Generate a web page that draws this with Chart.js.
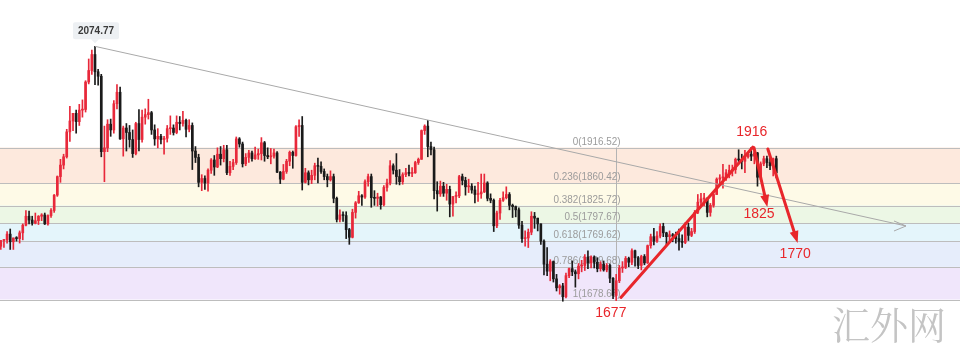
<!DOCTYPE html>
<html><head><meta charset="utf-8">
<script src="https://cdn.jsdelivr.net/npm/chart.js@4/dist/chart.umd.min.js"></script>
<style>html,body{margin:0;padding:0;background:#fff;}#wrap{width:960px;height:356px;position:relative;}</style>
</head><body><div id="wrap"><canvas id="c"></canvas></div>
<script>
// ---- data (XAU/USD daily) ----
const dates = [
'20-06-26','20-06-29','20-06-30','20-07-01','20-07-02','20-07-03','20-07-06','20-07-07','20-07-08','20-07-09',
'20-07-10','20-07-13','20-07-14','20-07-15','20-07-16','20-07-17','20-07-20','20-07-21','20-07-22','20-07-23',
'20-07-24','20-07-27','20-07-28','20-07-29','20-07-30','20-07-31','20-08-03','20-08-04','20-08-05','20-08-06',
'20-08-07','20-08-10','20-08-11','20-08-12','20-08-13','20-08-14','20-08-17','20-08-18','20-08-19','20-08-20',
'20-08-21','20-08-24','20-08-25','20-08-26','20-08-27','20-08-28','20-08-31','20-09-01','20-09-02','20-09-03',
'20-09-04','20-09-07','20-09-08','20-09-09','20-09-10','20-09-11','20-09-14','20-09-15','20-09-16','20-09-17',
'20-09-18','20-09-21','20-09-22','20-09-23','20-09-24','20-09-25','20-09-28','20-09-29','20-09-30','20-10-01',
'20-10-02','20-10-05','20-10-06','20-10-07','20-10-08','20-10-09','20-10-12','20-10-13','20-10-14','20-10-15',
'20-10-16','20-10-19','20-10-20','20-10-21','20-10-22','20-10-23','20-10-26','20-10-27','20-10-28','20-10-29',
'20-10-30','20-11-02','20-11-03','20-11-04','20-11-05','20-11-06','20-11-09','20-11-10','20-11-11','20-11-12',
'20-11-13','20-11-16','20-11-17','20-11-18','20-11-19','20-11-20','20-11-23','20-11-24','20-11-25','20-11-26',
'20-11-27','20-11-30','20-12-01','20-12-02','20-12-03','20-12-04','20-12-07','20-12-08','20-12-09','20-12-10',
'20-12-11','20-12-14','20-12-15','20-12-16','20-12-17','20-12-18','20-12-21','20-12-22','20-12-23','20-12-24',
'20-12-28','20-12-29','20-12-30','20-12-31','21-01-04','21-01-05','21-01-06','21-01-07','21-01-08','21-01-11',
'21-01-12','21-01-13','21-01-14','21-01-15','21-01-18','21-01-19','21-01-20','21-01-21','21-01-22','21-01-25',
'21-01-26','21-01-27','21-01-28','21-01-29','21-02-01','21-02-02','21-02-03','21-02-04','21-02-05','21-02-08',
'21-02-09','21-02-10','21-02-11','21-02-12','21-02-15','21-02-16','21-02-17','21-02-18','21-02-19','21-02-22',
'21-02-23','21-02-24','21-02-25','21-02-26','21-03-01','21-03-02','21-03-03','21-03-04','21-03-05','21-03-08',
'21-03-09','21-03-10','21-03-11','21-03-12','21-03-15','21-03-16','21-03-17','21-03-18','21-03-19','21-03-22',
'21-03-23','21-03-24','21-03-25','21-03-26','21-03-29','21-03-30','21-03-31','21-04-01','21-04-05','21-04-06',
'21-04-07','21-04-08','21-04-09','21-04-12','21-04-13','21-04-14','21-04-15','21-04-16','21-04-19','21-04-20',
'21-04-21','21-04-22','21-04-23','21-04-26','21-04-27','21-04-28','21-04-29','21-04-30','21-05-03','21-05-04',
'21-05-05','21-05-06','21-05-07','21-05-10','21-05-11','21-05-12','21-05-13','21-05-14','21-05-17','21-05-18',
'21-05-19','21-05-20','21-05-21','21-05-24','21-05-25','21-05-26','21-05-27','21-05-28','21-05-31','21-06-01',
'21-06-02','21-06-03','21-06-04','21-06-07','21-06-08','21-06-09','21-06-10','21-06-11'];

const open = [
1762,1771,1772,1781,1769,1775,1774,1783,1795,1809,
1803,1798,1802,1809,1811,1797,1810,1818,1842,1871,
1889,1902,1941,1958,1970,1957,1975,1976,2019,2037,
2062,2035,2028,1910,1916,1953,1944,1985,2003,1930,
1947,1940,1929,1907,1954,1929,1964,1968,1971,1944,
1930,1934,1929,1931,1946,1947,1940,1956,1954,1959,
1945,1951,1911,1901,1862,1868,1861,1881,1897,1886,
1906,1899,1913,1877,1887,1893,1930,1922,1891,1901,
1908,1899,1905,1907,1924,1904,1902,1903,1908,1878,
1867,1879,1895,1909,1904,1949,1951,1862,1877,1866,
1873,1888,1887,1879,1871,1866,1871,1837,1804,1811,
1810,1788,1776,1815,1830,1841,1839,1863,1871,1838,
1837,1839,1827,1854,1861,1888,1881,1871,1863,1874,
1877,1876,1877,1893,1898,1943,1950,1918,1913,1849,
1844,1856,1845,1851,1828,1840,1841,1871,1865,1855,
1856,1850,1843,1844,1847,1861,1837,1834,1794,1814,
1834,1838,1843,1826,1824,1819,1795,1774,1775,1784,
1809,1806,1797,1770,1734,1723,1738,1711,1697,1700,
1683,1716,1727,1722,1719,1731,1732,1745,1736,1745,
1737,1727,1734,1725,1732,1712,1685,1708,1728,1729,
1743,1737,1755,1744,1732,1746,1736,1763,1777,1770,
1778,1793,1783,1777,1780,1778,1774,1769,1768,1792,
1779,1785,1815,1831,1836,1837,1815,1826,1843,1867,
1869,1870,1877,1881,1882,1898,1897,1895,1902,1906,
1903,1908,1870,1891,1899,1893,1888,1899];

const high = [
1771,1773,1785,1789,1775,1777,1786,1797,1818,1817,
1809,1814,1810,1813,1814,1811,1821,1843,1872,1898,
1906,1945,1981,1970,1975,1984,1991,2021,2055,2069,
2074.77,2039,2031,1950,1960,1961,1990,2015,2011,1950,
1954,1951,1944,1956,1976,1975,1977,1992,1973,1952,
1946,1937,1934,1951,1966,1952,1966,1965,1973,1961,
1960,1955,1918,1906,1874,1872,1883,1899,1904,1916,
1918,1920,1920,1895,1898,1933,1932,1925,1907,1912,
1911,1917,1914,1932,1926,1916,1915,1914,1910,1879,
1890,1898,1911,1911,1951,1960,1965,1884,1880,1881,
1892,1900,1894,1883,1875,1880,1875,1839,1819,1816,
1816,1790,1820,1832,1848,1843,1866,1875,1875,1849,
1845,1840,1857,1867,1896,1891,1907,1882,1877,1884,
1889,1885,1895,1900,1944,1952,1959,1925,1917,1863,
1864,1862,1859,1856,1839,1847,1873,1875,1870,1867,
1860,1856,1862,1875,1875,1863,1844,1836,1817,1837,
1847,1855,1846,1828,1825,1822,1801,1786,1789,1816,
1815,1806,1797,1772,1760,1741,1739,1718,1702,1704,
1720,1728,1739,1725,1735,1740,1749,1755,1747,1747,
1744,1738,1739,1735,1734,1713,1718,1732,1738,1746,
1745,1758,1756,1746,1748,1749,1764,1781,1790,1785,
1797,1798,1784,1786,1782,1784,1789,1780,1799,1798,
1790,1818,1843,1845,1845,1838,1829,1845,1869,1874,
1890,1882,1889,1889,1900,1913,1906,1912,1908,1916.52,
1911,1909,1894,1903,1903,1900,1900,1903];

const low = [
1757,1760,1767,1757,1757,1770,1767,1772,1794,1797,
1795,1797,1796,1802,1796,1795,1807,1815,1840,1862,
1883,1900,1926,1943,1939,1951,1964,1972,2016,2031,
2015,2014,1902,1863,1910,1934,1939,1977,1929,1903,
1911,1917,1901,1905,1911,1925,1953,1961,1937,1920,
1916,1922,1906,1925,1937,1936,1938,1944,1950,1933,
1941,1882,1893,1855,1849,1851,1848,1876,1873,1885,
1889,1894,1874,1873,1882,1890,1917,1886,1888,1893,
1895,1898,1898,1897,1895,1899,1891,1900,1877,1860,
1866,1876,1888,1884,1903,1934,1850,1861,1858,1860,
1866,1861,1876,1866,1855,1864,1830,1800,1800,1801,
1774,1765,1775,1806,1829,1826,1837,1856,1823,1826,
1825,1820,1825,1848,1858,1875,1859,1858,1859,1871,
1872,1871,1876,1890,1898,1937,1902,1905,1836,1817,
1840,1840,1834,1808,1809,1830,1838,1858,1842,1846,
1845,1830,1832,1837,1846,1833,1830,1785,1791,1804,
1832,1836,1819,1807,1808,1790,1768,1762,1760,1780,
1790,1786,1765,1717,1716,1708,1706,1692,1687,1676,
1681,1713,1716,1698,1711,1722,1724,1727,1728,1728,
1722,1723,1723,1722,1705,1680,1677,1705,1721,1727,
1730,1733,1731,1727,1725,1733,1735,1759,1764,1768,
1775,1777,1764,1770,1769,1767,1756,1760,1766,1771,
1777,1782,1813,1827,1825,1808,1809,1823,1843,1859,
1853,1865,1869,1872,1876,1892,1883,1877,1900,1896,
1891,1856,1866,1888,1885,1882,1872,1869];

const close = [
1771,1772,1781,1769,1775,1774,1783,1795,1809,1803,
1798,1802,1809,1811,1797,1810,1818,1842,1871,1889,
1902,1941,1958,1970,1957,1975,1976,2019,2037,2062,
2035,2028,1910,1916,1953,1944,1985,2003,1930,1947,
1940,1929,1907,1954,1929,1964,1968,1971,1944,1930,
1934,1929,1931,1946,1947,1940,1956,1954,1959,1945,
1951,1911,1901,1862,1868,1861,1881,1897,1886,1906,
1899,1913,1877,1887,1893,1930,1922,1891,1901,1908,
1899,1905,1907,1924,1904,1902,1903,1908,1878,1867,
1879,1895,1909,1904,1949,1951,1862,1877,1866,1873,
1888,1887,1879,1871,1866,1871,1837,1804,1811,1810,
1788,1776,1815,1830,1841,1839,1863,1871,1838,1837,
1839,1827,1854,1861,1888,1881,1871,1863,1874,1877,
1876,1877,1893,1898,1943,1950,1918,1913,1849,1844,
1856,1845,1851,1828,1840,1841,1871,1865,1855,1856,
1850,1843,1844,1847,1861,1837,1834,1794,1814,1834,
1838,1843,1826,1824,1819,1795,1774,1775,1784,1809,
1806,1797,1770,1734,1723,1738,1711,1697,1700,1683,
1716,1727,1722,1719,1731,1732,1745,1736,1745,1737,
1727,1734,1725,1732,1712,1685,1708,1728,1729,1743,
1737,1755,1744,1732,1746,1736,1763,1777,1770,1778,
1793,1783,1777,1780,1778,1774,1769,1768,1792,1779,
1785,1815,1831,1836,1837,1815,1826,1843,1867,1869,
1870,1877,1881,1882,1898,1897,1895,1902,1906,1903,
1908,1870,1891,1899,1893,1888,1899,1877];

// Fibonacci retracement
const fibRatios = ['0','0.236','0.382','0.5','0.618','0.786','1'];
const fibValues = [1916.52, 1860.42, 1825.72, 1797.67, 1769.62, 1729.68, 1678.68];
const fibAnchorIndex = 196;           // 2021-03-31 low
const peakIndex = 30, peakValue = 2074.77;
const trendEnd = [288.3, 1793.7];     // [index, price] where the grey trend arrow ends
// red hand-drawn annotations, [index, price]
const redLine = [[197.5, 1682], [239.5, 1917]];
const redArrows = [
  [[239.9, 1916], [244.0, 1826.5]],
  [[244.3, 1914.2], [253.6, 1770.2]]
];
const redLabels = [
  {text: '1916', at: [239.2, 1940.8]},
  {text: '1825', at: [241.5, 1812.5]},
  {text: '1770', at: [253.0, 1749.9]},
  {text: '1677', at: [194.3, 1657.7]}
];

// ---- styles ----
const UP = '#e8283a', DOWN = '#1a1a1a';
const bandColors = ['#fde9dd', '#fefae7', '#ecf7e5', '#e4f5fb', '#e6edfb', '#f0e6fb'];
const RED = '#e8262b';

const colorOf = c => close[c.dataIndex] >= open[c.dataIndex] ? UP : DOWN;

const fibPlugin = {
  id: 'fib',
  beforeDatasetsDraw(chart) {
    const {ctx, chartArea: a, scales: {x, y}} = chart;
    ctx.save();
    for (let k = 0; k < fibValues.length - 1; k++) {
      const y1 = y.getPixelForValue(fibValues[k]), y2 = y.getPixelForValue(fibValues[k + 1]);
      ctx.fillStyle = bandColors[k];
      ctx.fillRect(a.left, y1, a.right - a.left, y2 - y1);
    }
    ctx.strokeStyle = '#bdbdbd'; ctx.lineWidth = 1;
    fibValues.forEach(v => {
      const py = Math.round(y.getPixelForValue(v)) + 0.5;
      ctx.beginPath(); ctx.moveTo(a.left, py); ctx.lineTo(a.right, py); ctx.stroke();
    });
    const ax = Math.round(x.getPixelForValue(fibAnchorIndex)) + 0.5;
    ctx.strokeStyle = '#b4b4b4';
    ctx.beginPath();
    ctx.moveTo(ax, y.getPixelForValue(fibValues[0]));
    ctx.lineTo(ax, y.getPixelForValue(fibValues[fibValues.length - 1]));
    ctx.stroke();
    ctx.fillStyle = '#9b9b9b';
    ctx.font = '11.5px "Liberation Sans", Arial, sans-serif';
    ctx.textAlign = 'right'; ctx.textBaseline = 'alphabetic';
    fibValues.forEach((v, k) => {
      const py = y.getPixelForValue(v);
      ctx.save();
      ctx.translate(ax + 4, py - 3);
      ctx.scale(0.86, 1);
      ctx.fillText(fibRatios[k] + '(' + v.toFixed(2) + ')', 0, 0);
      ctx.restore();
    });
    ctx.restore();
  }
};

function arrowHead(ctx, x0, y0, x1, y1, len, half) {
  const ang = Math.atan2(y1 - y0, x1 - x0);
  ctx.beginPath();
  ctx.moveTo(x1 + Math.cos(ang) * 2, y1 + Math.sin(ang) * 2);
  ctx.lineTo(x1 - Math.cos(ang) * len + Math.sin(ang) * half, y1 - Math.sin(ang) * len - Math.cos(ang) * half);
  ctx.lineTo(x1 - Math.cos(ang) * len - Math.sin(ang) * half, y1 - Math.sin(ang) * len + Math.cos(ang) * half);
  ctx.closePath(); ctx.fill();
}

const annotPlugin = {
  id: 'annot',
  afterDatasetsDraw(chart) {
    const {ctx, scales: {x, y}} = chart;
    const P = p => [x.getPixelForValue(p[0]), y.getPixelForValue(p[1])];
    ctx.save();
    // grey trend line
    const [px, py] = P([peakIndex, peakValue]);
    const [ex, ey] = P(trendEnd);
    ctx.strokeStyle = '#a9a9a9'; ctx.lineWidth = 1;
    ctx.beginPath(); ctx.moveTo(px, py); ctx.lineTo(ex, ey); ctx.stroke();
    ctx.beginPath(); ctx.moveTo(ex - 12, ey - 5); ctx.lineTo(ex, ey); ctx.lineTo(ex - 12, ey + 5); ctx.stroke();

    // price tag
    const tw = 46, th = 17, tb = py - 7;
    ctx.fillStyle = '#edf0f3';
    ctx.beginPath();
    if (ctx.roundRect) ctx.roundRect(px + 1 - tw / 2, tb - th, tw, th, 2); else ctx.rect(px + 1 - tw / 2, tb - th, tw, th);
    ctx.fill();
    ctx.beginPath(); ctx.moveTo(px - 4, tb); ctx.lineTo(px + 4, tb); ctx.lineTo(px, tb + 4); ctx.closePath(); ctx.fill();
    ctx.fillStyle = '#3a3a3a'; ctx.font = 'bold 10px "Liberation Sans", Arial, sans-serif';
    ctx.textAlign = 'center'; ctx.textBaseline = 'middle';
    ctx.fillText(peakValue.toFixed(2), px + 1, tb - th / 2 + 0.5);

    // red annotations
    ctx.strokeStyle = RED; ctx.fillStyle = RED; ctx.lineWidth = 3; ctx.lineCap = 'round';
    const [a0, a1] = [P(redLine[0]), P(redLine[1])];
    ctx.beginPath(); ctx.moveTo(a0[0], a0[1]); ctx.lineTo(a1[0], a1[1]); ctx.stroke();
    redArrows.forEach(([s, e]) => {
      const [sx, sy] = P(s), [tx, ty] = P(e);
      const ang = Math.atan2(ty - sy, tx - sx);
      ctx.beginPath(); ctx.moveTo(sx, sy); ctx.lineTo(tx - Math.cos(ang) * 6, ty - Math.sin(ang) * 6); ctx.stroke();
      arrowHead(ctx, sx, sy, tx, ty, 10, 4.5);
    });
    ctx.font = '14px "Liberation Sans", Arial, sans-serif';
    ctx.textAlign = 'center'; ctx.textBaseline = 'middle';
    redLabels.forEach(l => { const [lx, ly] = P(l.at); ctx.fillText(l.text, lx, ly); });

    // watermark
    ctx.fillStyle = '#c4c4c4';
    ctx.font = '38px "Noto Serif CJK SC", "Noto Sans CJK SC", sans-serif';
    ctx.textAlign = 'left'; ctx.textBaseline = 'middle';
    ctx.fillText('汇外网', 832, 325);
    ctx.restore();
  }
};

new Chart(document.getElementById('c'), {
  type: 'bar',
  data: {
    datasets: [
      {label: 'wick', data: dates.map((d, i) => ({x: i, y: [low[i], high[i]]})),
       backgroundColor: colorOf, barThickness: 1, grouped: false, order: 2},
      {label: 'body', data: dates.map((d, i) => ({x: i, y: [Math.min(open[i], close[i]), Math.max(open[i], close[i])]})),
       backgroundColor: colorOf, barThickness: 2, minBarLength: 1, grouped: false, order: 1}
    ]
  },
  options: {
    responsive: true, maintainAspectRatio: false, animation: false, events: [],
    layout: {padding: 0},
    plugins: {legend: {display: false}, tooltip: {enabled: false}},
    scales: {
      x: {type: 'linear', display: false, min: -0.255, max: 305.5, offset: false},
      y: {type: 'linear', display: false, min: 1590.3, max: 2147.3}
    }
  },
  plugins: [fibPlugin, annotPlugin]
});
</script>
</body></html>
